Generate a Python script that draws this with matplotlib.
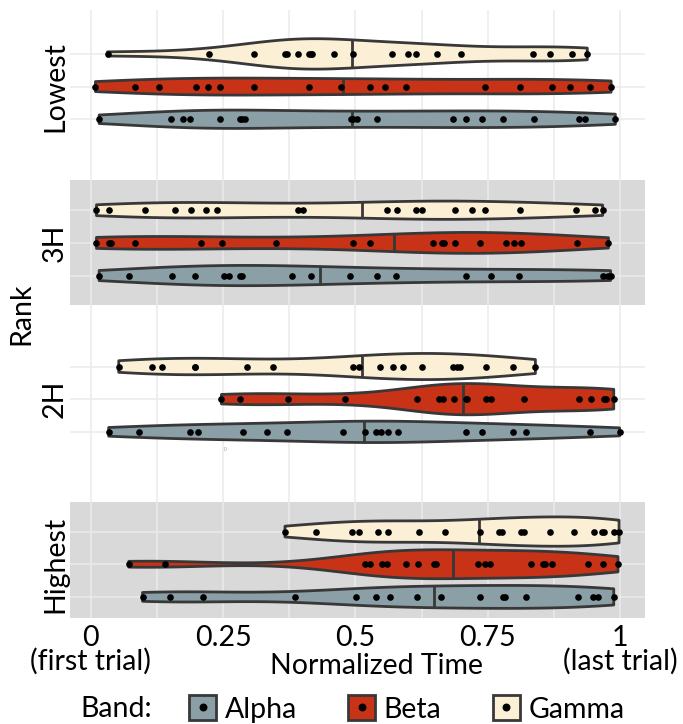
import numpy as np
import matplotlib
matplotlib.use("Agg")
import matplotlib.pyplot as plt
from matplotlib.patches import Patch
from matplotlib.lines import Line2D
from matplotlib.legend_handler import HandlerTuple

# ---------------- data ----------------
ranks = ["Lowest", "3H", "2H", "Highest"]
bands_top_to_bottom = ["Gamma", "Beta", "Alpha"]
legend_bands = ["Alpha", "Beta", "Gamma"]
x_ticks = [0, 0.25, 0.5, 0.75, 1]
x_tick_labels = ["0\n(first trial)", "0.25", "0.5", "0.75", "1\n(last trial)"]

lowest_gamma = [0.032, 0.224, 0.308, 0.367, 0.370, 0.391, 0.412, 0.416, 0.419, 0.459,
                0.496, 0.570, 0.600, 0.614, 0.654, 0.699, 0.835, 0.867, 0.909, 0.938]
lowest_beta = [0.009, 0.084, 0.129, 0.199, 0.222, 0.244, 0.309, 0.412, 0.473, 0.528,
               0.556, 0.595, 0.745, 0.811, 0.871, 0.906, 0.943, 0.983]
lowest_alpha = [0.016, 0.151, 0.175, 0.187, 0.245, 0.282, 0.285, 0.291, 0.491, 0.496,
                0.503, 0.540, 0.684, 0.708, 0.740, 0.779, 0.837, 0.922, 0.933, 0.991]

h3_gamma = [0.011, 0.034, 0.103, 0.159, 0.189, 0.218, 0.239, 0.391, 0.402, 0.559,
            0.579, 0.614, 0.626, 0.689, 0.721, 0.745, 0.811, 0.917, 0.953, 0.967]
h3_beta = [0.011, 0.034, 0.039, 0.084, 0.208, 0.248, 0.351, 0.496, 0.528, 0.647,
           0.663, 0.668, 0.689, 0.736, 0.785, 0.800, 0.813, 0.919, 0.978]
h3_alpha = [0.016, 0.072, 0.154, 0.198, 0.252, 0.261, 0.282, 0.286, 0.381, 0.416,
            0.489, 0.541, 0.577, 0.708, 0.756, 0.809, 0.968, 0.978, 0.982]

h2_gamma = [0.053, 0.116, 0.135, 0.197, 0.198, 0.295, 0.344, 0.496, 0.507, 0.546,
            0.571, 0.589, 0.626, 0.684, 0.691, 0.698, 0.747, 0.798, 0.840]
h2_beta = [0.247, 0.283, 0.372, 0.480, 0.616, 0.658, 0.665, 0.687, 0.708, 0.710,
           0.747, 0.757, 0.818, 0.922, 0.945, 0.969, 0.973, 0.988]
h2_alpha = [0.034, 0.092, 0.187, 0.203, 0.288, 0.333, 0.371, 0.477, 0.519, 0.538,
            0.548, 0.562, 0.580, 0.708, 0.740, 0.798, 0.823, 0.943, 0.999]

highest_gamma = [0.367, 0.425, 0.493, 0.507, 0.543, 0.562, 0.621, 0.670, 0.735, 0.771,
                 0.776, 0.813, 0.818, 0.867, 0.912, 0.951, 0.966, 0.970, 0.989, 0.998]
highest_beta = [0.072, 0.140, 0.518, 0.528, 0.551, 0.559, 0.595, 0.619, 0.649, 0.652,
                0.731, 0.745, 0.755, 0.832, 0.855, 0.859, 0.871, 0.939, 0.967, 0.996]
highest_alpha = [0.098, 0.149, 0.212, 0.386, 0.501, 0.539, 0.565, 0.616, 0.661, 0.735,
                 0.778, 0.783, 0.822, 0.921, 0.949, 0.959, 0.988]

data = {
    "Lowest": {"Gamma": lowest_gamma, "Beta": lowest_beta, "Alpha": lowest_alpha},
    "3H": {"Gamma": h3_gamma, "Beta": h3_beta, "Alpha": h3_alpha},
    "2H": {"Gamma": h2_gamma, "Beta": h2_beta, "Alpha": h2_alpha},
    "Highest": {"Gamma": highest_gamma, "Beta": highest_beta, "Alpha": highest_alpha},
}

# ---------------- style / layout ----------------
colors = {"Alpha": "#8A9FA6", "Beta": "#C83318", "Gamma": "#FBF0D5"}
edge = "#383838"
band_gray = "#D9D9D9"
grid_col = "#EBEBEB"
FS = 20.5
LW = 2.0

plt.rcParams["font.family"] = ["Lato", "DejaVu Sans"]
plt.rcParams["font.size"] = FS

# vertical placement of the rank groups (layout)
rank_pos = [0.0, 1.0, 2.0, 3.056]
row_off = {"Gamma": -0.209, "Beta": 0.0, "Alpha": 0.209}
half_w = 0.10


def kde_trim(vals, n=512):
    v = np.asarray(vals, dtype=float)
    N = len(v)
    sd = v.std(ddof=1)
    q75, q25 = np.percentile(v, [75, 25])
    bw = 0.9 * min(sd, (q75 - q25) / 1.34) * N ** (-0.2)
    grid = np.linspace(v.min(), v.max(), n)
    dens = np.exp(-0.5 * ((grid[:, None] - v[None, :]) / bw) ** 2).sum(1) / (N * bw * np.sqrt(2 * np.pi))
    return grid, dens


fig = plt.figure(figsize=(6.83, 7.24), dpi=100)
ax = fig.add_axes([70 / 683, 1 - 618 / 724, 575 / 683, 608 / 724])
ax.set_xlim(-0.039, 1.047)
ax.set_ylim(3.40, -0.49)

dens_all = {}
gmax = 0
for r in ranks:
    for b in bands_top_to_bottom:
        g, d = kde_trim(data[r][b])
        dens_all[(r, b)] = (g, d)
        gmax = max(gmax, d.max())

# background bands + grid
for i, r in enumerate(ranks):
    if i % 2 == 1:
        ax.axhspan(rank_pos[i] - 0.4, rank_pos[i] + 0.4, color=band_gray, lw=0, zorder=0)
for xv in np.arange(0, 1.001, 0.125):
    ax.axvline(xv, color=grid_col, lw=1.1, zorder=0.5)
for i, r in enumerate(ranks):
    for b in bands_top_to_bottom:
        ax.axhline(rank_pos[i] + row_off[b], color=grid_col, lw=1.1, zorder=0.5)

# violins
for i, r in enumerate(ranks):
    for b in bands_top_to_bottom:
        g, d = dens_all[(r, b)]
        w = d / gmax * half_w
        yc = rank_pos[i] + row_off[b]
        xs = np.concatenate([g, g[::-1]])
        ys = np.concatenate([yc - w, (yc + w)[::-1]])
        ax.fill(xs, ys, facecolor=colors[b], edgecolor=edge, lw=LW,
                joinstyle="round", zorder=2)
        cdf = np.cumsum(d) / d.sum()
        med = np.interp(0.5, cdf, g)
        wm = np.interp(med, g, w)
        ax.plot([med, med], [yc - wm, yc + wm], color=edge, lw=LW, zorder=2.5,
                solid_capstyle="butt")
        vals = np.asarray(data[r][b])
        ax.scatter(vals, np.full(len(vals), yc), s=23, color="black", lw=0, zorder=3)

for s in ax.spines.values():
    s.set_visible(False)
ax.tick_params(length=0)
ax.set_xticks(x_ticks)
ax.set_xticklabels(x_tick_labels)
ax.tick_params(axis="x", pad=5.2)
for t in ax.get_xticklabels():
    t.set_linespacing(0.86)
    t.set_multialignment("center")

ax.set_yticks(rank_pos)
ax.set_yticklabels(ranks)
ax.tick_params(axis="y", pad=5)
for t in ax.get_yticklabels():
    t.set_rotation(90)
    t.set_rotation_mode("anchor")
    t.set_ha("center")
    t.set_va("baseline")

ax.set_xlabel("Normalized Time")
ax.xaxis.set_label_coords((377 - 70) / 575, -0.058)
ax.set_ylabel("Rank")
ax.yaxis.set_label_coords(-0.062, 0.5)

# stray mark in the original
fig.text(225 / 683, 1 - 449 / 724, "0", fontsize=3.5, color="#999999", ha="center", va="center")

# legend
handles = [(Patch(facecolor=colors[b], edgecolor=edge, lw=LW),
            Line2D([], [], marker="o", color="black", ls="none", markersize=4.7))
           for b in legend_bands]
fig.text(80 / 683, 1 - 709 / 724, "Band:", ha="left", va="center", fontsize=FS)
fig.legend(handles, legend_bands, handler_map={tuple: HandlerTuple(ndivide=1, pad=0)},
           ncol=3, loc="center left", bbox_to_anchor=(189 / 683, 1 - 709 / 724),
           frameon=False, fontsize=FS, handlelength=0.95, handleheight=0.95,
           handletextpad=0.3, columnspacing=1.8, borderpad=0, borderaxespad=0)

fig.savefig("out.png", dpi=100)
